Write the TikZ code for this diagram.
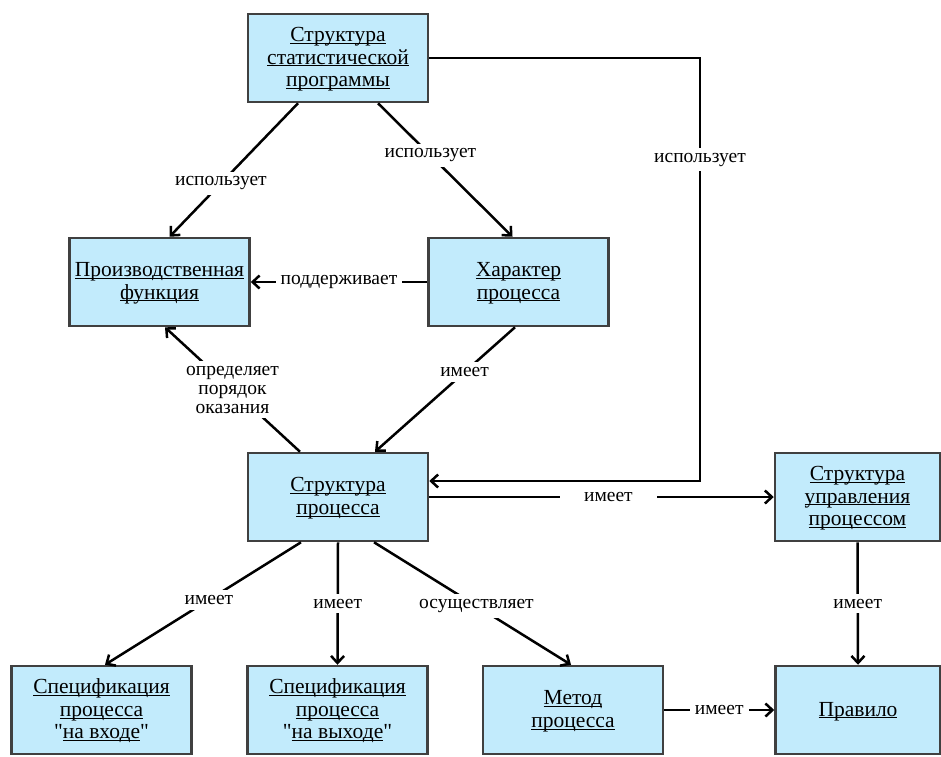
\documentclass[tikz,border=0pt]{standalone}
\usepackage{fontspec}
\setmainfont{Liberation Serif}[Ligatures=TeXOff]
\usetikzlibrary{arrows.meta}
\definecolor{boxblue}{RGB}{194,235,252}
\definecolor{boxgray}{RGB}{64,64,64}
\newcommand{\uln}[1]{\underline{\raisebox{0pt}[\height][0pt]{#1}}}

\begin{document}
\begin{tikzpicture}[x = 1pt, y = -1pt,
    box/.style = {draw = boxgray, line width = 2.5pt, fill = boxblue, minimum width = 180pt,
      minimum height = 88pt, inner sep = 0pt, align = center, font = \fontsize{21.5}{22.5}\selectfont},
    arr/.style = {line width = 2.5pt, -{Straight Barb[length = 7pt, width = 13pt]}},
    lbl/.style = {fill = white, inner sep = 5pt, font = \fontsize{19.5}{19}\selectfont}]
  \useasboundingbox (0,0) rectangle (941,756);

  \node[box] (prog) at (338,58) {\uln{Структура}\\\uln{статистической}\\\uln{программы}};
  \node[box] (prod) at (159.5,282) {\uln{Производственная}\\\uln{функция}};
  \node[box] (char) at (518.5,282) {\uln{Характер}\\\uln{процесса}};
  \node[box] (proc) at (338,497) {\uln{Структура}\\\uln{процесса}};
  \node[box, minimum width = 165pt] (ctrl) at (857.5,497) {\uln{Структура}\\\uln{управления}\\\uln{процессом}};
  \node[box] (in) at (101.5,710) {\uln{Спецификация}\\\uln{процесса}\\"\uln{на входе}"};
  \node[box] (out) at (337.5,710) {\uln{Спецификация}\\\uln{процесса}\\"\uln{на выходе}"};
  \node[box] (meth) at (573,710) {\uln{Метод}\\\uln{процесса}};
  \node[box, minimum width = 165pt] (rule) at (858,710) {\uln{Правило}};

  \coordinate (bend) at (700,58);
  \coordinate (procin) at ([yshift=16pt]proc.east);

  \draw[arr] ([xshift=-40pt]prog.south) -- node[lbl, pos = 0.6] (l1) {использует} ([xshift=10pt]prod.north);
  \draw[arr] ([xshift=40pt]prog.south) -- node[lbl, pos = 0.39] (l2) {использует} ([xshift=-6pt]char.north);
  \draw[arr] (prog.east) -- (bend) -- node[lbl, pos = 0.24] (l3) {использует} (bend |- procin) -- (procin);
  \draw[arr] (char.west) -- node[lbl] (l4) {поддерживает} (prod.east);
  \draw[arr] ([xshift=-3.5pt]char.south) -- node[lbl, pos = 0.36] (l5) {имеет} ([xshift=37pt]proc.north);
  \draw[arr] ([xshift=-38pt]proc.north) -- node[lbl, pos = 0.5, align = center] (l6) {определяет\\порядок\\оказания} ([xshift=5.5pt]prod.south);
  \draw[arr] (proc.east) -- node[lbl, pos = 0.52, inner xsep = 24pt] (l7) {имеет} (ctrl.west);
  \draw[arr] ([xshift=-37pt]proc.south) -- node[lbl, pos = 0.47] (l8) {имеет} ([xshift=3.5pt]in.north);
  \draw[arr] (proc.south) -- node[lbl] (l9) {имеет} (out.north);
  \draw[arr] ([xshift=36pt]proc.south) -- node[lbl, pos = 0.52] (l10) {осуществляет} ([xshift=-2pt]meth.north);
  \draw[arr] (ctrl.south) -- node[lbl] (l11) {имеет} (rule.north);
  \draw[arr] (meth.east) -- node[lbl] (l12) {имеет} (rule.west);
\end{tikzpicture}
\end{document}
